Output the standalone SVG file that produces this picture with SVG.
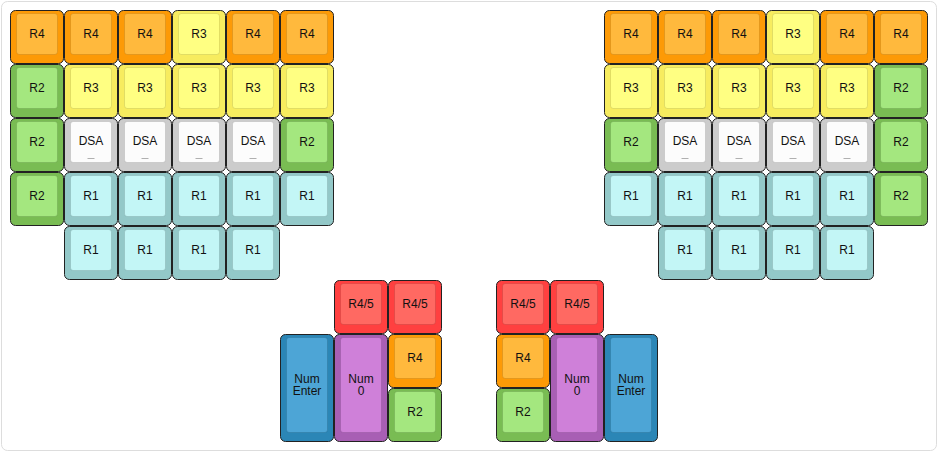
<svg xmlns="http://www.w3.org/2000/svg" width="938" height="452" viewBox="0 0 938 452">
<style>
.o{stroke:#222;stroke-width:1}
.i{stroke:rgba(0,0,0,0.1);stroke-width:1}
text{font-family:"Liberation Sans",Arial,sans-serif;font-size:12px;fill:#111;text-anchor:middle}
.r4 .o{fill:#fd9a06}.r4 .i{fill:#ffb93d}
.r3 .o{fill:#f7ec5f}.r3 .i{fill:#ffff82}
.r2 .o{fill:#79bc53}.r2 .i{fill:#a4e77f}
.r1 .o{fill:#93c8c8}.r1 .i{fill:#c3f6f6}
.dsa .o{fill:#cccccc}.dsa .i{fill:#fcfcfc}
.r45 .o{fill:#ff4040}.r45 .i{fill:#ff6962}
.ne .o{fill:#2b86b6}.ne .i{fill:#4da5d6}
.n0 .o{fill:#a85fb4}.n0 .i{fill:#cf80d9}
.nub{stroke:#b0b0b0;stroke-width:1}
</style>
<defs>
<rect id="o1" x="0.5" y="0.5" width="53" height="53" rx="5"/>
<rect id="i1" x="6.5" y="3.5" width="41" height="41" rx="3"/>
<rect id="o2" x="0.5" y="0.5" width="53" height="107" rx="5"/>
<rect id="i2" x="6.5" y="3.5" width="41" height="95" rx="3"/>
</defs>
<rect id="frame" x="1.5" y="1.5" width="935" height="449" rx="6" fill="#fff" stroke="#ddd"/>
<g id="left-hand">
<g id="L-r0c0" class="r4" transform="translate(10,10)"><use href="#o1" class="o"/><use href="#i1" class="i"/><text x="27" y="28">R4</text></g>
<g id="L-r0c1" class="r4" transform="translate(64,10)"><use href="#o1" class="o"/><use href="#i1" class="i"/><text x="27" y="28">R4</text></g>
<g id="L-r0c2" class="r4" transform="translate(118,10)"><use href="#o1" class="o"/><use href="#i1" class="i"/><text x="27" y="28">R4</text></g>
<g id="L-r0c3" class="r3" transform="translate(172,10)"><use href="#o1" class="o"/><use href="#i1" class="i"/><text x="27" y="28">R3</text></g>
<g id="L-r0c4" class="r4" transform="translate(226,10)"><use href="#o1" class="o"/><use href="#i1" class="i"/><text x="27" y="28">R4</text></g>
<g id="L-r0c5" class="r4" transform="translate(280,10)"><use href="#o1" class="o"/><use href="#i1" class="i"/><text x="27" y="28">R4</text></g>
<g id="L-r1c0" class="r2" transform="translate(10,64)"><use href="#o1" class="o"/><use href="#i1" class="i"/><text x="27" y="28">R2</text></g>
<g id="L-r1c1" class="r3" transform="translate(64,64)"><use href="#o1" class="o"/><use href="#i1" class="i"/><text x="27" y="28">R3</text></g>
<g id="L-r1c2" class="r3" transform="translate(118,64)"><use href="#o1" class="o"/><use href="#i1" class="i"/><text x="27" y="28">R3</text></g>
<g id="L-r1c3" class="r3" transform="translate(172,64)"><use href="#o1" class="o"/><use href="#i1" class="i"/><text x="27" y="28">R3</text></g>
<g id="L-r1c4" class="r3" transform="translate(226,64)"><use href="#o1" class="o"/><use href="#i1" class="i"/><text x="27" y="28">R3</text></g>
<g id="L-r1c5" class="r3" transform="translate(280,64)"><use href="#o1" class="o"/><use href="#i1" class="i"/><text x="27" y="28">R3</text></g>
<g id="L-r2c0" class="r2" transform="translate(10,118)"><use href="#o1" class="o"/><use href="#i1" class="i"/><text x="27" y="28">R2</text></g>
<g id="L-r2c1" class="dsa" transform="translate(64,118)"><use href="#o1" class="o"/><use href="#i1" class="i"/><text x="27" y="27">DSA</text><line class="nub" x1="23.5" y1="40.5" x2="30.5" y2="40.5"/></g>
<g id="L-r2c2" class="dsa" transform="translate(118,118)"><use href="#o1" class="o"/><use href="#i1" class="i"/><text x="27" y="27">DSA</text><line class="nub" x1="23.5" y1="40.5" x2="30.5" y2="40.5"/></g>
<g id="L-r2c3" class="dsa" transform="translate(172,118)"><use href="#o1" class="o"/><use href="#i1" class="i"/><text x="27" y="27">DSA</text><line class="nub" x1="23.5" y1="40.5" x2="30.5" y2="40.5"/></g>
<g id="L-r2c4" class="dsa" transform="translate(226,118)"><use href="#o1" class="o"/><use href="#i1" class="i"/><text x="27" y="27">DSA</text><line class="nub" x1="23.5" y1="40.5" x2="30.5" y2="40.5"/></g>
<g id="L-r2c5" class="r2" transform="translate(280,118)"><use href="#o1" class="o"/><use href="#i1" class="i"/><text x="27" y="28">R2</text></g>
<g id="L-r3c0" class="r2" transform="translate(10,172)"><use href="#o1" class="o"/><use href="#i1" class="i"/><text x="27" y="28">R2</text></g>
<g id="L-r3c1" class="r1" transform="translate(64,172)"><use href="#o1" class="o"/><use href="#i1" class="i"/><text x="27" y="28">R1</text></g>
<g id="L-r3c2" class="r1" transform="translate(118,172)"><use href="#o1" class="o"/><use href="#i1" class="i"/><text x="27" y="28">R1</text></g>
<g id="L-r3c3" class="r1" transform="translate(172,172)"><use href="#o1" class="o"/><use href="#i1" class="i"/><text x="27" y="28">R1</text></g>
<g id="L-r3c4" class="r1" transform="translate(226,172)"><use href="#o1" class="o"/><use href="#i1" class="i"/><text x="27" y="28">R1</text></g>
<g id="L-r3c5" class="r1" transform="translate(280,172)"><use href="#o1" class="o"/><use href="#i1" class="i"/><text x="27" y="28">R1</text></g>
<g id="L-r4c1" class="r1" transform="translate(64,226)"><use href="#o1" class="o"/><use href="#i1" class="i"/><text x="27" y="28">R1</text></g>
<g id="L-r4c2" class="r1" transform="translate(118,226)"><use href="#o1" class="o"/><use href="#i1" class="i"/><text x="27" y="28">R1</text></g>
<g id="L-r4c3" class="r1" transform="translate(172,226)"><use href="#o1" class="o"/><use href="#i1" class="i"/><text x="27" y="28">R1</text></g>
<g id="L-r4c4" class="r1" transform="translate(226,226)"><use href="#o1" class="o"/><use href="#i1" class="i"/><text x="27" y="28">R1</text></g>
</g>
<g id="left-thumb">
<g id="L-t-r45a" class="r45" transform="translate(334,280)"><use href="#o1" class="o"/><use href="#i1" class="i"/><text x="27" y="28">R4/5</text></g>
<g id="L-t-r45b" class="r45" transform="translate(388,280)"><use href="#o1" class="o"/><use href="#i1" class="i"/><text x="27" y="28">R4/5</text></g>
<g id="L-t-enter" class="ne" transform="translate(280,334)"><use href="#o2" class="o"/><use href="#i2" class="i"/><text x="27" y="48.7">Num</text><text x="27" y="61">Enter</text></g>
<g id="L-t-num0" class="n0" transform="translate(334,334)"><use href="#o2" class="o"/><use href="#i2" class="i"/><text x="27" y="48.7">Num</text><text x="27" y="61">0</text></g>
<g id="L-t-r4" class="r4" transform="translate(388,334)"><use href="#o1" class="o"/><use href="#i1" class="i"/><text x="27" y="28">R4</text></g>
<g id="L-t-r2" class="r2" transform="translate(388,388)"><use href="#o1" class="o"/><use href="#i1" class="i"/><text x="27" y="28">R2</text></g>
</g>
<g id="right-hand">
<g id="R-r0c0" class="r4" transform="translate(604,10)"><use href="#o1" class="o"/><use href="#i1" class="i"/><text x="27" y="28">R4</text></g>
<g id="R-r0c1" class="r4" transform="translate(658,10)"><use href="#o1" class="o"/><use href="#i1" class="i"/><text x="27" y="28">R4</text></g>
<g id="R-r0c2" class="r4" transform="translate(712,10)"><use href="#o1" class="o"/><use href="#i1" class="i"/><text x="27" y="28">R4</text></g>
<g id="R-r0c3" class="r3" transform="translate(766,10)"><use href="#o1" class="o"/><use href="#i1" class="i"/><text x="27" y="28">R3</text></g>
<g id="R-r0c4" class="r4" transform="translate(820,10)"><use href="#o1" class="o"/><use href="#i1" class="i"/><text x="27" y="28">R4</text></g>
<g id="R-r0c5" class="r4" transform="translate(874,10)"><use href="#o1" class="o"/><use href="#i1" class="i"/><text x="27" y="28">R4</text></g>
<g id="R-r1c0" class="r3" transform="translate(604,64)"><use href="#o1" class="o"/><use href="#i1" class="i"/><text x="27" y="28">R3</text></g>
<g id="R-r1c1" class="r3" transform="translate(658,64)"><use href="#o1" class="o"/><use href="#i1" class="i"/><text x="27" y="28">R3</text></g>
<g id="R-r1c2" class="r3" transform="translate(712,64)"><use href="#o1" class="o"/><use href="#i1" class="i"/><text x="27" y="28">R3</text></g>
<g id="R-r1c3" class="r3" transform="translate(766,64)"><use href="#o1" class="o"/><use href="#i1" class="i"/><text x="27" y="28">R3</text></g>
<g id="R-r1c4" class="r3" transform="translate(820,64)"><use href="#o1" class="o"/><use href="#i1" class="i"/><text x="27" y="28">R3</text></g>
<g id="R-r1c5" class="r2" transform="translate(874,64)"><use href="#o1" class="o"/><use href="#i1" class="i"/><text x="27" y="28">R2</text></g>
<g id="R-r2c0" class="r2" transform="translate(604,118)"><use href="#o1" class="o"/><use href="#i1" class="i"/><text x="27" y="28">R2</text></g>
<g id="R-r2c1" class="dsa" transform="translate(658,118)"><use href="#o1" class="o"/><use href="#i1" class="i"/><text x="27" y="27">DSA</text><line class="nub" x1="23.5" y1="40.5" x2="30.5" y2="40.5"/></g>
<g id="R-r2c2" class="dsa" transform="translate(712,118)"><use href="#o1" class="o"/><use href="#i1" class="i"/><text x="27" y="27">DSA</text><line class="nub" x1="23.5" y1="40.5" x2="30.5" y2="40.5"/></g>
<g id="R-r2c3" class="dsa" transform="translate(766,118)"><use href="#o1" class="o"/><use href="#i1" class="i"/><text x="27" y="27">DSA</text><line class="nub" x1="23.5" y1="40.5" x2="30.5" y2="40.5"/></g>
<g id="R-r2c4" class="dsa" transform="translate(820,118)"><use href="#o1" class="o"/><use href="#i1" class="i"/><text x="27" y="27">DSA</text><line class="nub" x1="23.5" y1="40.5" x2="30.5" y2="40.5"/></g>
<g id="R-r2c5" class="r2" transform="translate(874,118)"><use href="#o1" class="o"/><use href="#i1" class="i"/><text x="27" y="28">R2</text></g>
<g id="R-r3c0" class="r1" transform="translate(604,172)"><use href="#o1" class="o"/><use href="#i1" class="i"/><text x="27" y="28">R1</text></g>
<g id="R-r3c1" class="r1" transform="translate(658,172)"><use href="#o1" class="o"/><use href="#i1" class="i"/><text x="27" y="28">R1</text></g>
<g id="R-r3c2" class="r1" transform="translate(712,172)"><use href="#o1" class="o"/><use href="#i1" class="i"/><text x="27" y="28">R1</text></g>
<g id="R-r3c3" class="r1" transform="translate(766,172)"><use href="#o1" class="o"/><use href="#i1" class="i"/><text x="27" y="28">R1</text></g>
<g id="R-r3c4" class="r1" transform="translate(820,172)"><use href="#o1" class="o"/><use href="#i1" class="i"/><text x="27" y="28">R1</text></g>
<g id="R-r3c5" class="r2" transform="translate(874,172)"><use href="#o1" class="o"/><use href="#i1" class="i"/><text x="27" y="28">R2</text></g>
<g id="R-r4c1" class="r1" transform="translate(658,226)"><use href="#o1" class="o"/><use href="#i1" class="i"/><text x="27" y="28">R1</text></g>
<g id="R-r4c2" class="r1" transform="translate(712,226)"><use href="#o1" class="o"/><use href="#i1" class="i"/><text x="27" y="28">R1</text></g>
<g id="R-r4c3" class="r1" transform="translate(766,226)"><use href="#o1" class="o"/><use href="#i1" class="i"/><text x="27" y="28">R1</text></g>
<g id="R-r4c4" class="r1" transform="translate(820,226)"><use href="#o1" class="o"/><use href="#i1" class="i"/><text x="27" y="28">R1</text></g>
</g>
<g id="right-thumb">
<g id="R-t-r45a" class="r45" transform="translate(496,280)"><use href="#o1" class="o"/><use href="#i1" class="i"/><text x="27" y="28">R4/5</text></g>
<g id="R-t-r45b" class="r45" transform="translate(550,280)"><use href="#o1" class="o"/><use href="#i1" class="i"/><text x="27" y="28">R4/5</text></g>
<g id="R-t-r4" class="r4" transform="translate(496,334)"><use href="#o1" class="o"/><use href="#i1" class="i"/><text x="27" y="28">R4</text></g>
<g id="R-t-r2" class="r2" transform="translate(496,388)"><use href="#o1" class="o"/><use href="#i1" class="i"/><text x="27" y="28">R2</text></g>
<g id="R-t-num0" class="n0" transform="translate(550,334)"><use href="#o2" class="o"/><use href="#i2" class="i"/><text x="27" y="48.7">Num</text><text x="27" y="61">0</text></g>
<g id="R-t-enter" class="ne" transform="translate(604,334)"><use href="#o2" class="o"/><use href="#i2" class="i"/><text x="27" y="48.7">Num</text><text x="27" y="61">Enter</text></g>
</g>
</svg>
